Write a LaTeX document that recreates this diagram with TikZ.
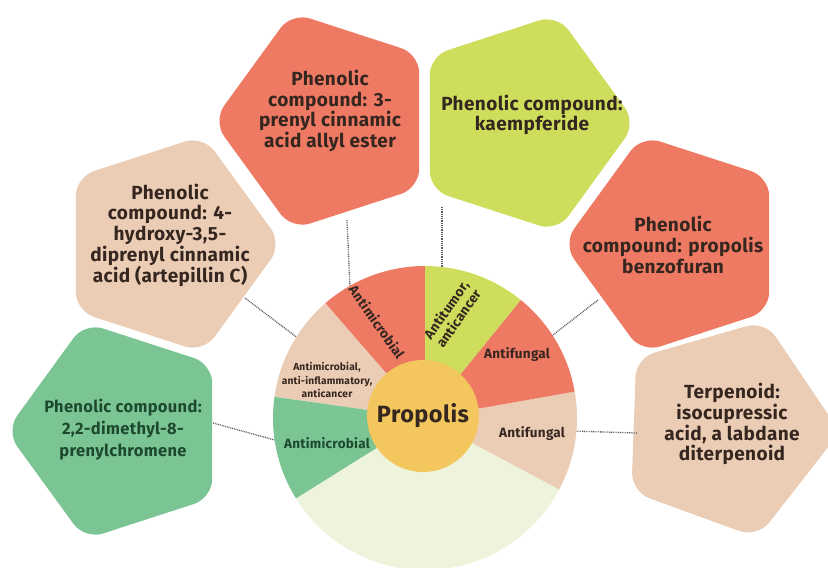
\documentclass[tikz,border=0pt]{standalone}
\usepackage{fontspec}
\setmainfont{Fira Sans}[LetterSpace=2]
\usetikzlibrary{shapes.geometric}
\definecolor{cred}{HTML}{EE7A64}
\definecolor{cyel}{HTML}{CEDD5C}
\definecolor{cbeige}{HTML}{EBCDB5}
\definecolor{cgreen}{HTML}{7AC593}
\definecolor{clight}{HTML}{EEF3DC}
\definecolor{corange}{HTML}{F3C75E}
\definecolor{ctext}{HTML}{35261F}
\definecolor{cgtext}{HTML}{1D4A2E}
\definecolor{cline}{HTML}{5A5A66}
\tikzset{
  pent/.style={regular polygon, regular polygon sides=5, minimum size=228pt,
    inner sep=0pt, rounded corners=19pt, fill=#1},
  ptext/.style={align=center, text=ctext, font=\fontsize{19}{20.8}\selectfont\bfseries},
  wlabel/.style={align=center, text=ctext, font=\fontsize{13.5}{15}\selectfont\bfseries},
  conn/.style={draw=cline, line width=1.3pt, dash pattern=on 0.9pt off 0.9pt}
}
\begin{document}
\begin{tikzpicture}[x=1pt,y=-1pt]
\useasboundingbox (0,0) rectangle (828,568);
\clip (0,0) rectangle (828,568);
\fill[white] (0,0) rectangle (828,568);

% pentagons
\node[pent=cred, shape border rotate=90] (p1) at (327,121) {};
\node[pent=cyel, shape border rotate=-90] (p2) at (522,123) {};
\node[pent=cbeige, shape border rotate=-90] (p3) at (168,244) {};
\node[pent=cred, shape border rotate=90] (p4) at (677,244) {};
\node[pent=cgreen, shape border rotate=90] (p5) at (120,431) {};
\node[pent=cbeige, shape border rotate=-92] (p6) at (726,428) {};

% pentagon texts
\node[ptext] (t1) at (330,111) {Phenolic\\compound: 3-\\prenyl cinnamic\\acid allyl ester};
\node[ptext] (t2) at (532,115) {Phenolic compound:\\kaempferide};
\node[ptext] (t3) at (170,235) {Phenolic\\compound: 4-\\hydroxy-3,5-\\diprenyl cinnamic\\acid (artepillin C)};
\node[ptext] (t4) at (673,245) {Phenolic\\compound: propolis\\benzofuran};
\node[ptext, text=cgtext, font=\fontsize{16.5}{22}\selectfont\bfseries] (t5) at (123,430) {Phenolic compound:\\2,2-dimethyl-8-\\prenylchromene};
\node[ptext] (t6) at (732,424) {Terpenoid:\\isocupressic\\acid, a labdane\\diterpenoid};

% connector end points
\coordinate (c1a) at (347,220); \coordinate (c1b) at (350,287);
\coordinate (c2a) at (442,207); \coordinate (c2b) at (442,268);
\coordinate (c3a) at (245,298); \coordinate (c3b) at (299,339);
\coordinate (c4a) at (598,300); \coordinate (c4b) at (549,338);
\coordinate (c5a) at (213,423); \coordinate (c5b) at (282,442);
\coordinate (c6a) at (637,433); \coordinate (c6b) at (572,431);
\draw[conn] (c1a) -- (c1b);
\draw[conn] (c2a) -- (c2b);
\draw[conn] (c3a) -- (c3b);
\draw[conn] (c4a) -- (c4b);
\draw[conn] (c5a) -- (c5b);
\draw[conn] (c6a) -- (c6b);

% pie
\coordinate (c) at (425,418);
\def\R{152}
\fill[cred]   (c) -- ++(-90:\R)  arc[start angle=-90,  end angle=-131, radius=\R] -- cycle;
\fill[cbeige] (c) -- ++(-131:\R) arc[start angle=-131, end angle=-172, radius=\R] -- cycle;
\fill[cgreen] (c) -- ++(-172:\R) arc[start angle=-172, end angle=-212, radius=\R] -- cycle;
\fill[clight] (c) -- ++(-212:\R) arc[start angle=-212, end angle=-332, radius=\R] -- cycle;
\fill[cbeige] (c) -- ++(28:\R)   arc[start angle=28,   end angle=-10,  radius=\R] -- cycle;
\fill[cred]   (c) -- ++(-10:\R)  arc[start angle=-10,  end angle=-51,  radius=\R] -- cycle;
\fill[cyel]   (c) -- ++(-51:\R)  arc[start angle=-51,  end angle=-90,  radius=\R] -- cycle;

% wedge labels
\node[wlabel, rotate=-55] (l1) at (377,322) {Antimicrobial};
\node[wlabel, rotate=55] (l2) at (452,314) {Antitumor,\\anticancer};
\node[wlabel] (l3) at (517,355) {Antifungal};
\node[wlabel] (l4) at (532,434) {Antifungal};
\node[wlabel, text=cgtext] (l5) at (327,443) {Antimicrobial};
\node[wlabel, font=\fontsize{10.2}{13.3}\selectfont\bfseries] (l6) at (327,380) {Antimicrobial,\\anti-inflammatory,\\anticancer};

% centre
\node[circle, fill=corange, minimum size=112pt, inner sep=0pt, text=ctext,
      font=\fontsize{23.5}{26}\selectfont\bfseries] (prop) at (423,416) {Propolis};
\end{tikzpicture}
\end{document}
